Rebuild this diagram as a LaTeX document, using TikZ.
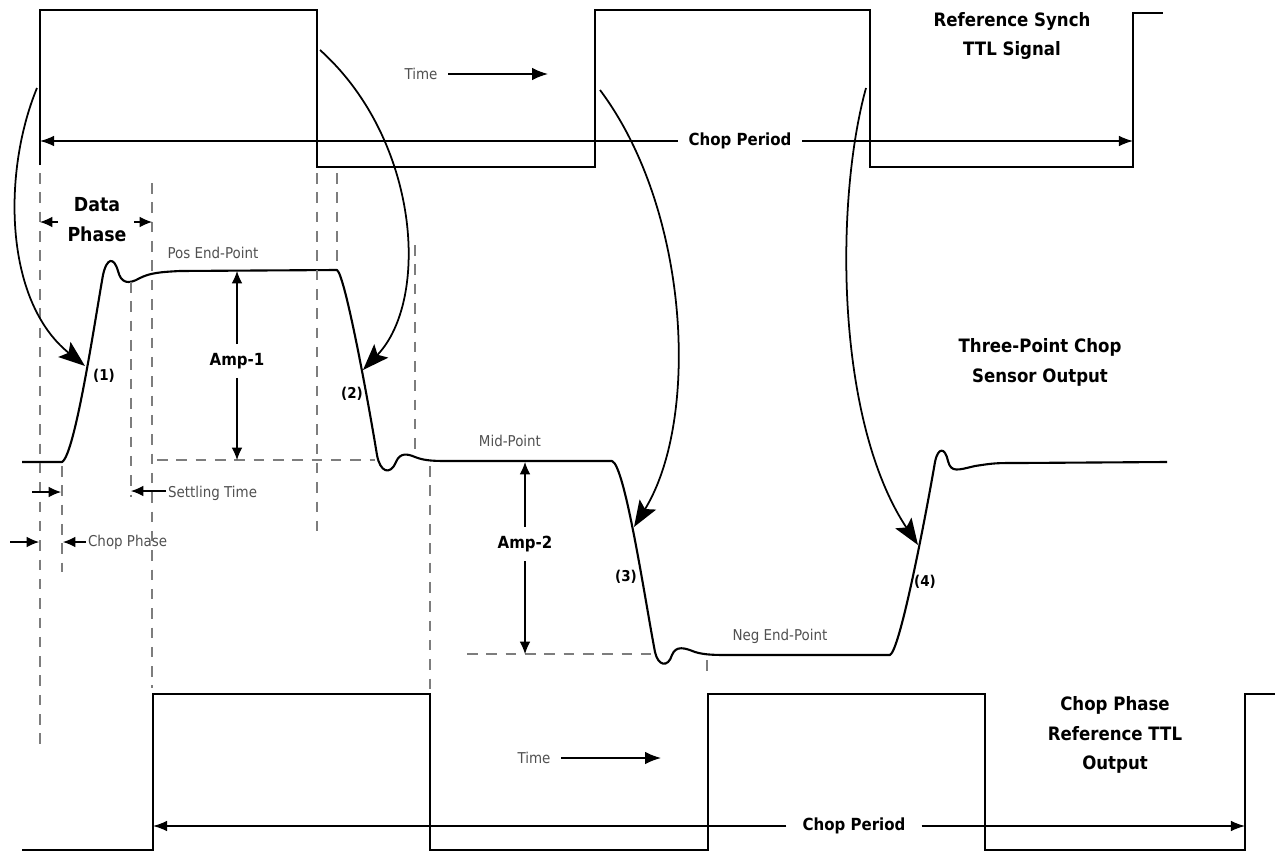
\documentclass[tikz,border=0pt]{standalone}
\usepackage{fontspec}
\setmainfont{DejaVu Sans Condensed}
\usetikzlibrary{arrows.meta,positioning}
\definecolor{guidegray}{RGB}{125,125,125}
\definecolor{textgray}{RGB}{80,80,80}

\begin{document}
\begin{tikzpicture}[x=0.02cm,y=-0.02cm]

		\def\sigw{1.4pt}
		\def\gap{6pt}

		\tikzset{sig/.style={draw,line width=\sigw,line join=miter}}
		\tikzset{wave/.style={draw,line width=1.2pt,line join=round}}
		\tikzset{guide/.style={draw,guidegray,line width=0.8pt,dash pattern=on 6pt off 5pt}}
		\tikzset{period/.style={draw,line width=0.7pt,-{Latex[length=8pt,width=6pt]}}}
		\tikzset{dimarrow/.style={draw,line width=0.6pt,-{Latex[length=7pt,width=6pt]}}}
		\tikzset{bigarrow/.style={draw,line width=1pt,-{Stealth[length=15pt,width=11pt,inset=3pt]}}}
		\tikzset{title/.style={font=\bfseries\fontsize{10.5}{17}\selectfont,align=center,inner sep=0pt}}
		\tikzset{boldlbl/.style={font=\bfseries\fontsize{9.5}{12}\selectfont}}
		\tikzset{graylbl/.style={font=\fontsize{8.5}{10}\selectfont,textgray}}
		\tikzset{ptlbl/.style={font=\bfseries\fontsize{8.5}{10}\selectfont,inner sep=0pt}}

		\useasboundingbox (0,0) rectangle (1282,852);

		% reference synch signal
		\draw[sig] (40,165) -- (40,10) -- (317,10) -- (317,167) -- (595,167) -- (595,10)
			-- (870,10) -- (870,167) -- (1133,167) -- (1133,13) -- (1163,13);

		% chop phase reference output
		\draw[sig] (22,850) -- (153,850) -- (153,694) -- (430,694) -- (430,850) -- (708,850)
			-- (708,694) -- (985,694) -- (985,850) -- (1245,850) -- (1245,694) -- (1275,694);

		% sensor output
		\draw[wave] (22,462) -- (62,462) .. controls (75,455) and (95,320) .. (103,275)
			.. controls (107,257) and (114,257) .. (118,271) .. controls (121,283) and (128,285) .. (140,278)
			.. controls (150,273) and (160,272) .. (180,271) -- (337,270)
			.. controls (345,275) and (368,400) .. (377,455) .. controls (380,472) and (390,476) .. (396,462)
			.. controls (400,452) and (408,454) .. (415,457) .. controls (425,461) and (435,461) .. (450,461)
			-- (612,461) .. controls (625,465) and (645,600) .. (655,652)
			.. controls (658,666) and (668,668) .. (672,655) .. controls (676,645) and (685,648) .. (695,652)
			.. controls (705,655) and (715,655) .. (730,655) -- (890,655)
			.. controls (900,650) and (925,520) .. (935,462) .. controls (938,447) and (945,447) .. (948,461)
			.. controls (951,473) and (958,470) .. (975,466) .. controls (995,463) .. (1020,463) -- (1167,462);

		% guide lines
		\draw[guide] (40,173) -- (40,750);
		\draw[guide] (62,466) -- (62,572);
		\draw[guide] (131,282) -- (131,497);
		\draw[guide] (152,183) -- (152,688);
		\draw[guide] (317,173) -- (317,540);
		\draw[guide] (337,173) -- (337,268);
		\draw[guide] (415,245) -- (415,456);
		\draw[guide] (430,466) -- (430,690);
		\draw[guide] (707,660) -- (707,673);
		\draw[guide] (157,460) -- (375,460);
		\draw[guide] (467,654) -- (652,654);

		% titles
		\node[title] (synch) at (1012,36) {Reference Synch\\TTL Signal};
		\node[title] (sensor) at (1040,362) {Three-Point Chop\\Sensor Output};
		\node[title] (chopref) at (1115,735) {Chop Phase\\Reference TTL\\Output};

		% chop periods
		\node[boldlbl,inner xsep=\gap] (per1) at (740,141) {Chop Period};
		\coordinate (per1l) at (40,141);
		\coordinate (per1r) at (1133,141);
		\draw[period] (per1.west) -- (per1l);
		\draw[period] (per1.east) -- (per1r);

		\node[boldlbl,inner xsep=9pt] (per2) at (854,826) {Chop Period};
		\coordinate (per2l) at (153,826);
		\coordinate (per2r) at (1245,826);
		\draw[period] (per2.west) -- (per2l);
		\draw[period] (per2.east) -- (per2r);

		% time arrows
		\node[graylbl,inner xsep=\gap] (time1) at (421,74) {Time};
		\coordinate (time1e) at (548,74);
		\draw[dimarrow,line width=0.8pt,-{Latex[length=9pt,width=7pt]}] (time1.east) -- (time1e);

		\node[graylbl,inner xsep=\gap] (time2) at (534,758) {Time};
		\coordinate (time2e) at (661,758);
		\draw[dimarrow,line width=0.8pt,-{Latex[length=9pt,width=7pt]}] (time2.east) -- (time2e);

		% levels
		\node[graylbl] (pos) at (213,253) {Pos End-Point};
		\node[graylbl] (mid) at (510,441) {Mid-Point};
		\node[graylbl] (neg) at (780,636) {Neg End-Point};

		% amplitudes
		\node[boldlbl,inner ysep=5pt] (amp1) at (237,361) {Amp-1};
		\coordinate (amp1t) at (237,271);
		\coordinate (amp1b) at (237,460);
		\draw[dimarrow] (amp1.north) -- (amp1t);
		\draw[dimarrow] (amp1.south) -- (amp1b);

		\node[boldlbl,inner ysep=5pt] (amp2) at (525,544) {Amp-2};
		\coordinate (amp2t) at (525,462);
		\coordinate (amp2b) at (525,654);
		\draw[dimarrow] (amp2.north) -- (amp2t);
		\draw[dimarrow] (amp2.south) -- (amp2b);

		% data phase
		\node[font=\bfseries\fontsize{11}{17}\selectfont,align=center,inner sep=0pt] (dphase) at (97,220) {Data\\Phase};
		\coordinate (dpl) at (40,222);
		\coordinate (dpr) at (152,222);
		\draw[dimarrow] (58,222) -- (dpl);
		\draw[dimarrow] (134,222) -- (dpr);

		% settling time and chop phase
		\node[graylbl,anchor=west,inner sep=1pt] (settle) at (166,493) {Settling Time};
		\coordinate (settlee) at (131,491);
		\draw[dimarrow] (settle.west |- settlee) -- (settlee);

		\coordinate (cpa) at (32,492);
		\coordinate (cpb) at (61,492);
		\draw[dimarrow] (cpa) -- (cpb);

		\node[graylbl,anchor=west,inner sep=1pt] (cphase) at (86,542) {Chop Phase};
		\coordinate (cphasee) at (63,542);
		\coordinate (cpc) at (10,542);
		\coordinate (cpd) at (39,542);
		\draw[dimarrow] (cphase.west) -- (cphasee);
		\draw[dimarrow] (cpc) -- (cpd);

		% transition markers
		\coordinate (s1) at (37,88);
		\coordinate (t1) at (85,366);
		\coordinate (s2) at (320,50);
		\coordinate (t2) at (363,370);
		\coordinate (s3) at (600,90);
		\coordinate (t3) at (634,527);
		\coordinate (s4) at (866,88);
		\coordinate (t4) at (918,545);

		\draw[bigarrow] (s1) .. controls (3,170) and (3,300) .. (t1);
		\draw[bigarrow] (s2) .. controls (420,140) and (430,300) .. (t2);
		\draw[bigarrow] (s3) .. controls (690,210) and (700,420) .. (t3);
		\draw[bigarrow] (s4) .. controls (835,200) and (835,420) .. (t4);

		\node[ptlbl] (p1) at (104,376) {(1)};
		\node[ptlbl] (p2) at (352,394) {(2)};
		\node[ptlbl] (p3) at (626,577) {(3)};
		\node[ptlbl] (p4) at (925,582) {(4)};

	\end{tikzpicture}
\end{document}
